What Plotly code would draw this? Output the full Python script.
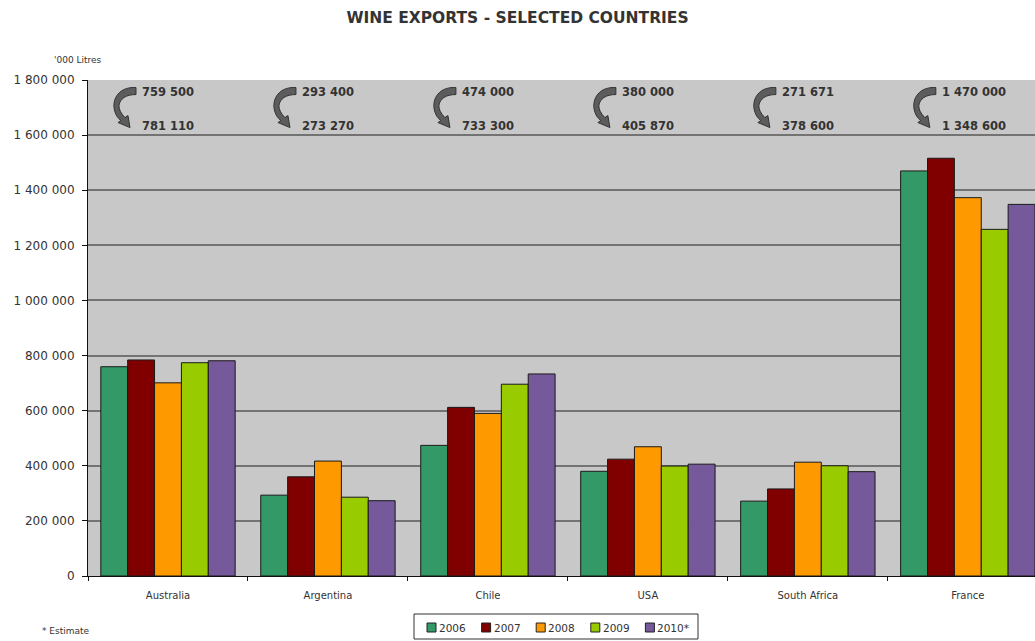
import plotly.graph_objects as go

# Wine exports by country, thousand litres
countries = ["Australia", "Argentina", "Chile", "USA", "South Africa", "France"]
years = ["2006", "2007", "2008", "2009", "2010*"]
exports_2006 = [759500, 293400, 474000, 380000, 271671, 1470000]
exports_2007 = [784000, 360000, 612000, 424000, 316000, 1516000]
exports_2008 = [701000, 417000, 590000, 469000, 413000, 1373000]
exports_2009 = [774000, 286000, 696000, 399000, 400000, 1258000]
exports_2010 = [781110, 273270, 733300, 405870, 378600, 1348600]

series = [exports_2006, exports_2007, exports_2008, exports_2009, exports_2010]
colors = ["#339966", "#800000", "#ff9900", "#99cc00", "#76599a"]

FONT = "DejaVu Sans"
PLOT_W, PLOT_H = 947, 496  # plot area in pixels (width minus margins)


def fmt(v):
    return f"{v:,}".replace(",", " ")


fig = go.Figure()
for name, vals, col in zip(years, series, colors):
    fig.add_trace(go.Bar(
        x=countries, y=vals, name=name, showlegend=False,
        marker=dict(color=col, line=dict(color="#1a1a1a", width=1)),
    ))

# Curved arrow glyph (pixel coordinates, y up) linking 2006 and 2010 figures
arrow_path = (
    "M 12,20 C -2,21 -11,12 -10,0 "
    "C -9,-7 -6,-11 -3,-13 "
    "L -6,-15 L 6,-20 L 4,-8 L 1,-10 "
    "C -3,-6 -5,-2 -5,2 "
    "C -4,9 2,13 12,13 Z"
)

for i, c in enumerate(countries):
    fig.add_shape(
        type="path", path=arrow_path,
        xref="x", yref="y", xsizemode="pixel", ysizemode="pixel",
        xanchor=i - 0.275, yanchor=1700000,
        fillcolor="#5c5c5c", line=dict(color="#333333", width=1),
    )
    for val, yv in ((exports_2006[i], 1756000), (exports_2010[i], 1633000)):
        fig.add_annotation(
            x=i - 0.175, y=yv, xref="x", yref="y", text=fmt(val),
            showarrow=False, xanchor="left", yanchor="middle",
            font=dict(family=FONT, size=11.5, color="#333", weight="bold"),
        )


def px_x(px):
    return (px - 88) / PLOT_W


def px_y(py):
    return (576 - py) / PLOT_H


# Legend: bordered box with a swatch and label per year
fig.add_shape(
    type="rect", xref="paper", yref="paper",
    x0=px_x(414), x1=px_x(698), y0=px_y(639), y1=px_y(614),
    line=dict(color="#333", width=1), fillcolor="white",
)
for k, (name, col) in enumerate(zip(years, colors)):
    cx = 431.5 + 54.6 * k
    fig.add_shape(
        type="rect", xref="paper", yref="paper",
        x0=px_x(cx - 4.5), x1=px_x(cx + 4.5),
        y0=px_y(632), y1=px_y(623),
        fillcolor=col, line=dict(color="#222", width=1),
    )
    fig.add_annotation(
        x=px_x(cx + 5.5), y=px_y(627.5), xref="paper", yref="paper",
        text=name, showarrow=False,
        xanchor="left", yanchor="middle",
        font=dict(family=FONT, size=10.5, color="#333"),
    )

fig.add_annotation(
    x=-0.038, y=1.04, xref="paper", yref="paper", text="'000 Litres",
    showarrow=False, xanchor="left", yanchor="middle",
    font=dict(family=FONT, size=9, color="#333"),
)
fig.add_annotation(
    x=-0.051, y=-0.11, xref="paper", yref="paper", text="* Estimate",
    showarrow=False, xanchor="left", yanchor="middle",
    font=dict(family=FONT, size=9, color="#333"),
)

fig.update_layout(
    width=1035, height=641,
    margin=dict(l=88, r=0, t=80, b=65, autoexpand=False),
    paper_bgcolor="white",
    plot_bgcolor="#c8c8c8",
    separators=". ",
    showlegend=False,
    title=dict(text="WINE EXPORTS - SELECTED COUNTRIES", x=0.5,
               xref="container", xanchor="center",
               y=0.972, yanchor="middle",
               font=dict(family=FONT, size=15.5, color="#333", weight="bold")),
    font=dict(family=FONT, size=11, color="#333"),
    barmode="group", bargap=0.16, bargroupgap=0,
    xaxis=dict(
        range=[-0.5, 5.42], showgrid=False, showline=True, linecolor="#111",
        linewidth=1, ticks="outside", tickson="boundaries", ticklen=4,
        tickcolor="#111", tickfont=dict(family=FONT, size=10, color="#333"),
        ticklabelstandoff=10,
    ),
    yaxis=dict(
        range=[0, 1800000], dtick=200000, tickformat=",d",
        showgrid=True, gridcolor="#737373", gridwidth=2,
        showline=True, linecolor="#111", linewidth=1,
        ticks="outside", ticklen=5, tickcolor="#111",
        tickfont=dict(family=FONT, size=12, color="#333"),
        ticklabelstandoff=5, zeroline=False,
    ),
)

fig.write_html("out.html")
